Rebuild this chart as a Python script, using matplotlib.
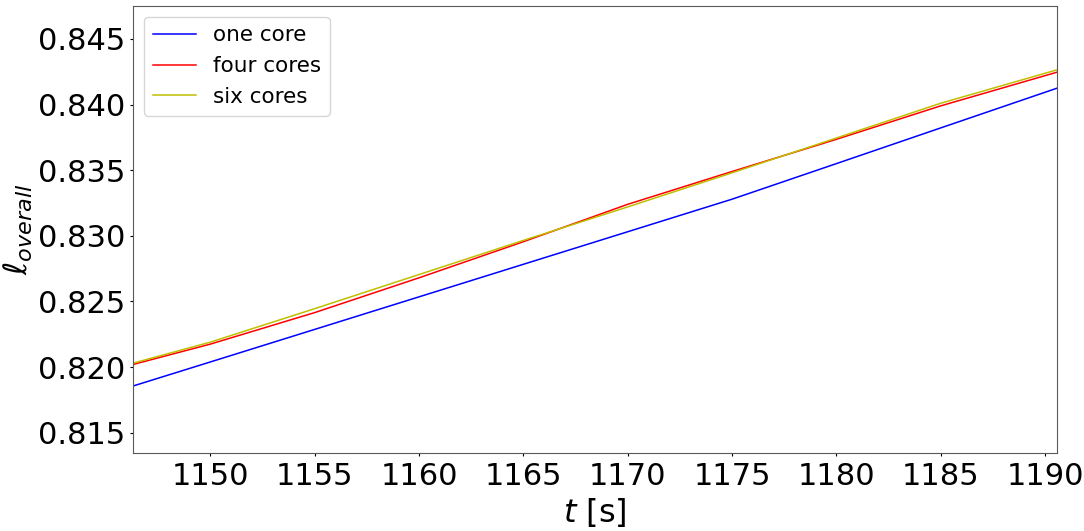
import matplotlib
matplotlib.use("Agg")
import matplotlib.pyplot as plt

# values
t = [1146.3, 1150, 1155, 1160, 1165, 1170, 1175, 1180, 1185, 1190.56]
one_core = [0.81856, 0.82039, 0.82287, 0.82535, 0.82783, 0.83031, 0.83279, 0.83550, 0.83822, 0.84124]
four_cores = [0.82020, 0.82175, 0.82415, 0.82680, 0.82955, 0.83240, 0.83490, 0.83735, 0.83990, 0.84246]
six_cores = [0.82030, 0.82190, 0.82445, 0.82705, 0.82965, 0.83220, 0.83480, 0.83745, 0.84010, 0.84264]

fig = plt.figure(figsize=(10.84, 5.31), dpi=100)
ax = fig.add_axes([0.123, 0.1463, 0.9748 - 0.123, 0.9887 - 0.1463])

ax.plot(t, one_core, color='b', lw=1.1, label='one core')
ax.plot(t, four_cores, color='r', lw=1.1, label='four cores')
ax.plot(t, six_cores, color='y', lw=1.1, label='six cores')

ax.set_xlim(1146.31, 1190.56)
ax.set_ylim(0.81343, 0.84751)
ax.set_xticks(range(1150, 1191, 5))
ax.set_yticks([0.815, 0.820, 0.825, 0.830, 0.835, 0.840, 0.845])
ax.tick_params(labelsize=22, length=2.3, pad=3.6)
for s in ax.spines.values():
    s.set_color('0.35')
ax.set_xlabel('$t$ [s]', fontsize=23, labelpad=4)
ax.set_ylabel(r'$\ell_{overall}$', fontsize=23, labelpad=2)
ax.legend(loc='upper left', fontsize=15.5)

fig.savefig('out.png', dpi=100)
